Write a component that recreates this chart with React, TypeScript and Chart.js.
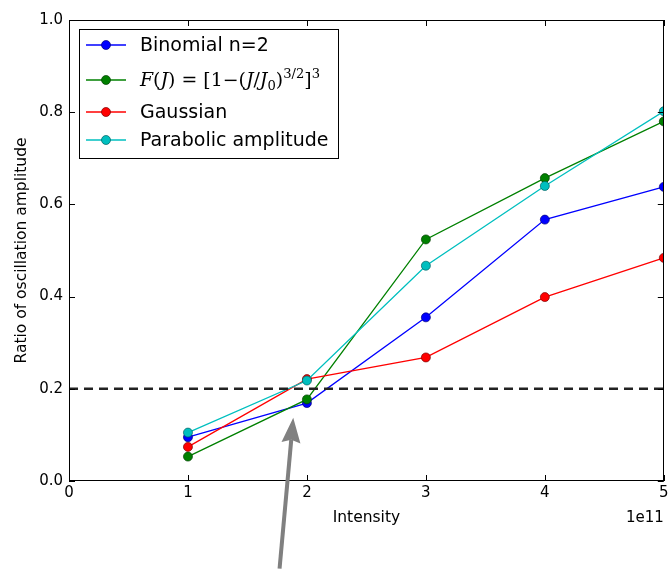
import React, { useEffect, useRef } from "react";
import { Chart, registerables } from "chart.js";

Chart.register(...registerables);

// ---- data ----
const intensities = [1, 2, 3, 4, 5];
const seriesNames = [
  "Binomial n=2",
  "F(J)=[1-(J/J0)^(3/2)]^3",
  "Gaussian",
  "Parabolic amplitude",
];
const binomial = [0.095, 0.169, 0.355, 0.567, 0.638];
const powerLaw = [0.053, 0.177, 0.524, 0.657, 0.78];
const gaussian = [0.074, 0.221, 0.268, 0.399, 0.484];
const parabolic = [0.105, 0.218, 0.467, 0.64, 0.802];
const seriesColors = ["#0000ff", "#008000", "#ff0000", "#00bfbf"];
const seriesEdge = ["#00007a", "#003f00", "#7a0000", "#006060"];
const thresholdY = 0.2;
const xTickValues = [0, 1, 2, 3, 4, 5];
const yTickValues = [0, 0.2, 0.4, 0.6, 0.8, 1.0];
const xTitle = "Intensity";
const yTitle = "Ratio of oscillation amplitude";
const xOffsetText = "1e11";
const arrowTail = { x: 1.77, y: -0.19 };
const arrowTip = { x: 1.885, y: 0.137 };

const SANS = "'DejaVu Sans', sans-serif";
const SERIF = "'DejaVu Serif', serif";

const decorPlugin = {
  id: "decor",
  afterDraw(chart: any) {
    const { ctx, chartArea: a, scales } = chart;
    const xs = scales.x;
    const ys = scales.y;
    ctx.save();

    // frame
    ctx.strokeStyle = "#000";
    ctx.lineWidth = 1;
    ctx.strokeRect(Math.round(a.left) + 0.5, Math.round(a.top) + 0.5, Math.round(a.right - a.left) - 1, Math.round(a.bottom - a.top) - 1);

    // inward ticks
    const tl = 6;
    ctx.beginPath();
    xTickValues.forEach((v) => {
      const px = Math.round(xs.getPixelForValue(v)) + 0.5;
      ctx.moveTo(px, a.bottom);
      ctx.lineTo(px, a.bottom - tl);
      ctx.moveTo(px, a.top);
      ctx.lineTo(px, a.top + tl);
    });
    yTickValues.forEach((v) => {
      const py = Math.round(ys.getPixelForValue(v)) + 0.5;
      ctx.moveTo(a.left, py);
      ctx.lineTo(a.left + tl, py);
      ctx.moveTo(a.right, py);
      ctx.lineTo(a.right - tl, py);
    });
    ctx.stroke();

    // offset text
    ctx.fillStyle = "#000";
    ctx.font = `15px ${SANS}`;
    ctx.textAlign = "right";
    ctx.textBaseline = "middle";
    ctx.fillText(xOffsetText, a.right, 518);

    // legend
    const lx = 79, ly = 29, lw = 259, lh = 129;
    ctx.fillStyle = "#fff";
    ctx.fillRect(lx, ly, lw, lh);
    ctx.strokeStyle = "#000";
    ctx.lineWidth = 1;
    ctx.strokeRect(lx + 0.5, ly + 0.5, lw, lh);
    const rows = [45, 80, 112, 140];
    rows.forEach((ry, i) => {
      ctx.strokeStyle = seriesColors[i];
      ctx.lineWidth = 1.3;
      ctx.beginPath();
      ctx.moveTo(86, ry);
      ctx.lineTo(126, ry);
      ctx.stroke();
      ctx.beginPath();
      ctx.arc(106, ry, 4.5, 0, Math.PI * 2);
      ctx.fillStyle = seriesColors[i];
      ctx.fill();
      ctx.strokeStyle = seriesEdge[i];
      ctx.lineWidth = 0.7;
      ctx.stroke();
      ctx.fillStyle = "#000";
      ctx.textAlign = "left";
      ctx.textBaseline = "middle";
      if (i === 1) {
        drawMath(ctx, 140, ry + 6, 180);
      } else {
        ctx.font = `19px ${SANS}`;
        ctx.fillText(seriesNames[i], 140, ry + 1);
      }
    });

    // arrow
    const tx = xs.getPixelForValue(arrowTail.x);
    const ty = ys.getPixelForValue(arrowTail.y);
    const hx = xs.getPixelForValue(arrowTip.x);
    const hy = ys.getPixelForValue(arrowTip.y);
    const dx = hx - tx, dy = hy - ty;
    const len = Math.hypot(dx, dy);
    const ux = dx / len, uy = dy / len;
    const nx = -uy, ny = ux;
    const headLen = 25, headHalf = 9.5;
    const bx = hx - ux * headLen, by = hy - uy * headLen;
    ctx.strokeStyle = "#808080";
    ctx.fillStyle = "#808080";
    ctx.lineWidth = 4;
    ctx.lineCap = "butt";
    ctx.beginPath();
    ctx.moveTo(tx, ty);
    ctx.lineTo(bx + ux * 3, by + uy * 3);
    ctx.stroke();
    ctx.beginPath();
    ctx.moveTo(hx, hy);
    ctx.lineTo(bx + nx * headHalf, by + ny * headHalf);
    ctx.lineTo(bx + ux * 3, by + uy * 3);
    ctx.lineTo(bx - nx * headHalf, by - ny * headHalf);
    ctx.closePath();
    ctx.fill();

    ctx.restore();
  },
};

function drawMath(ctx: CanvasRenderingContext2D, x: number, baseline: number, targetW: number) {
  const base = 18, small = 12.5;
  const parts: { t: string; it?: boolean; sz?: number; dy?: number }[] = [
    { t: "F", it: true },
    { t: "(" },
    { t: "J", it: true },
    { t: ")" },
    { t: " = " },
    { t: "[1\u2212(" },
    { t: "J", it: true },
    { t: "/" },
    { t: "J", it: true },
    { t: "0", sz: small, dy: 4 },
    { t: ")" },
    { t: "3/2", sz: small, dy: -8 },
    { t: "]" },
    { t: "3", sz: small, dy: -8 },
  ];
  const fontOf = (p: any) => `${p.it ? "italic " : ""}${p.sz || base}px ${SERIF}`;
  let total = 0;
  parts.forEach((p) => {
    ctx.font = fontOf(p);
    total += ctx.measureText(p.t).width;
  });
  ctx.save();
  ctx.translate(x, baseline);
  ctx.scale(targetW / total, 1);
  ctx.textBaseline = "alphabetic";
  ctx.textAlign = "left";
  ctx.fillStyle = "#000";
  let cx = 0;
  parts.forEach((p) => {
    ctx.font = fontOf(p);
    ctx.fillText(p.t, cx, p.dy || 0);
    cx += ctx.measureText(p.t).width;
  });
  ctx.restore();
}

function makeDataset(label: string, values: number[], i: number, order: number) {
  return {
    label,
    data: intensities.map((x, k) => ({ x, y: values[k] })),
    borderColor: seriesColors[i],
    backgroundColor: seriesColors[i],
    pointBackgroundColor: seriesColors[i],
    pointBorderColor: seriesEdge[i],
    pointBorderWidth: 0.7,
    pointRadius: 4.5,
    borderWidth: 1.3,
    tension: 0,
    clip: 0,
    order,
  };
}

export default function App() {
  const ref = useRef<HTMLCanvasElement>(null);
  useEffect(() => {
    if (!ref.current) return;
    const chart = new Chart(ref.current, {
      type: "line",
      data: {
        datasets: [
          {
            label: "threshold",
            data: [
              { x: 0, y: thresholdY },
              { x: 5, y: thresholdY },
            ],
            borderColor: "#222",
            borderWidth: 2.5,
            borderDash: [9, 6],
            pointRadius: 0,
            clip: 0,
            order: 0,
          } as any,
          makeDataset(seriesNames[3], parabolic, 3, 1),
          makeDataset(seriesNames[2], gaussian, 2, 2),
          makeDataset(seriesNames[1], powerLaw, 1, 3),
          makeDataset(seriesNames[0], binomial, 0, 4),
        ],
      },
      options: {
        responsive: false,
        animation: false,
        events: [],
        layout: { padding: { top: 20, right: 3, bottom: 39, left: 0 } },
        plugins: { legend: { display: false }, tooltip: { enabled: false } },
        scales: {
          x: {
            type: "linear",
            min: 0,
            max: 5,
            afterBuildTicks: (s: any) => {
              s.ticks = xTickValues.map((v) => ({ value: v }));
            },
            afterFit: (s: any) => {
              s.height = 50;
              s.paddingLeft = 0;
              s.paddingRight = 0;
            },
            grid: { display: false, drawTicks: false },
            border: { display: false },
            ticks: {
              color: "#000",
              font: { family: SANS, size: 15 },
              padding: 3,
              maxRotation: 0,
              autoSkip: false,
              callback: (v: any) => String(v),
            },
            title: {
              display: true,
              text: xTitle,
              color: "#000",
              font: { family: SANS, size: 15.5 },
              padding: { top: 0, bottom: 4 },
            },
          },
          y: {
            type: "linear",
            min: 0,
            max: 1,
            afterBuildTicks: (s: any) => {
              s.ticks = yTickValues.map((v) => ({ value: v }));
            },
            afterFit: (s: any) => {
              s.width = 69;
              s.paddingTop = 0;
              s.paddingBottom = 0;
            },
            grid: { display: false, drawTicks: false },
            border: { display: false },
            ticks: {
              color: "#000",
              font: { family: SANS, size: 15 },
              padding: 6,
              autoSkip: false,
              callback: (v: any) => Number(v).toFixed(1),
            },
            title: {
              display: true,
              text: yTitle,
              color: "#000",
              font: { family: SANS, size: 15.5 },
              padding: { top: 13, bottom: 0 },
            },
          },
        },
      },
      plugins: [decorPlugin],
    } as any);
    return () => chart.destroy();
  }, []);
  return (
    <div style={{ position: "fixed", left: 0, top: 0, width: 669, height: 570, background: "#fff" }}>
      <canvas ref={ref} width={669} height={570} style={{ display: "block", width: 669, height: 570 }} />
    </div>
  );
}
